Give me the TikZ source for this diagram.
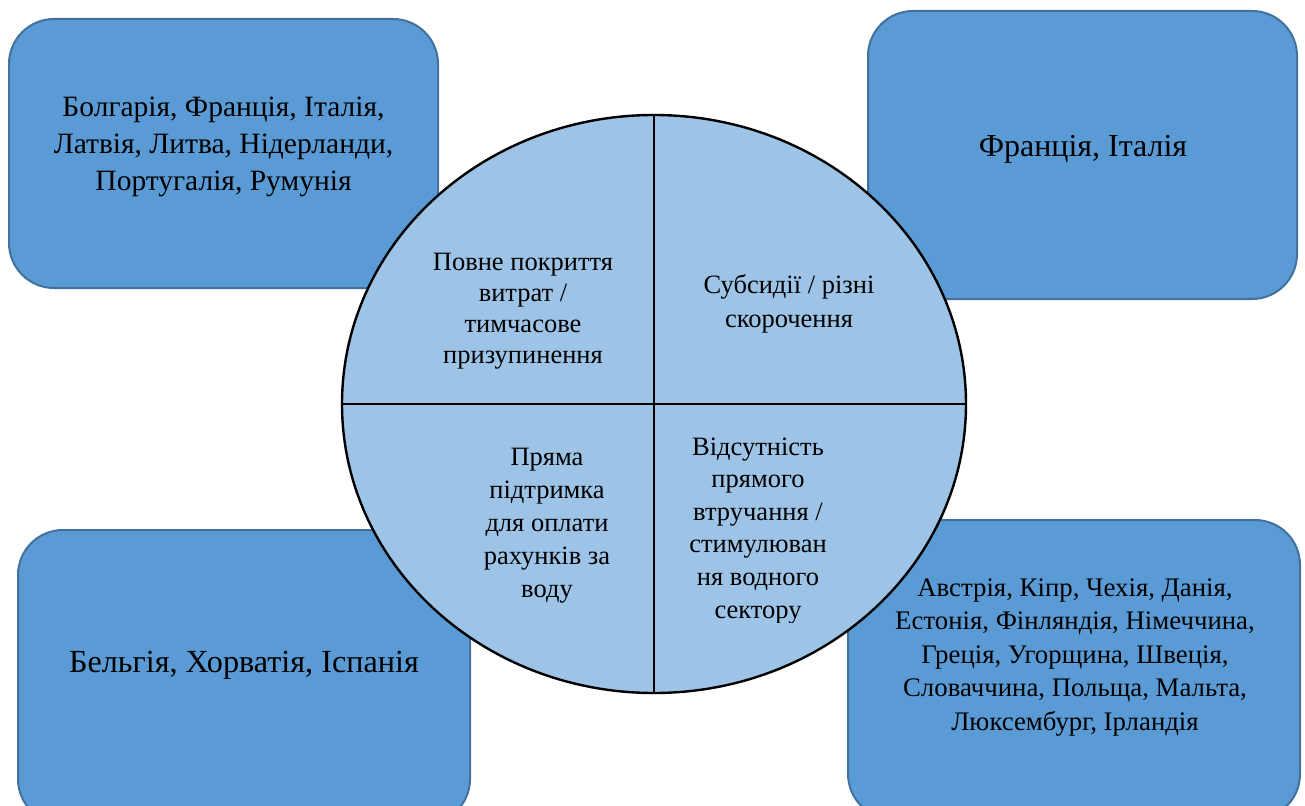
\documentclass[tikz,border=0pt]{standalone}
\usepackage{fontspec}
\setmainfont{Liberation Serif}
\usetikzlibrary{shapes.geometric}
\newcommand\cellines[1]{\vtop{\halign{\hfil##\hfil\cr#1\crcr}}}
\definecolor{boxfill}{HTML}{5B9BD5}
\definecolor{boxline}{HTML}{41719C}
\definecolor{circfill}{HTML}{9DC3E6}
\begin{document}
\begin{tikzpicture}[x=1pt,y=-1pt,
  cbox/.style={draw=boxline, fill=boxfill, line width=2pt, rounded corners=45pt, inner sep=0pt},
  circ/.style={ellipse, draw=black, fill=circfill, line width=2.4pt, inner sep=0pt},
  divline/.style={draw=black, line width=2.4pt},
  txt/.style={anchor=base, inner sep=0pt, text=black},
  qtxt/.style={txt, font=\fontsize{26.5}{32.5}\selectfont},
]
\useasboundingbox (0,0) rectangle (1305,805);
\clip (0,0) rectangle (1305,805);

% boxes
\node[cbox, minimum width=429pt, minimum height=269pt] (tlbox) at (223.5,153.5) {};
\node[cbox, minimum width=429pt, minimum height=288pt] (trbox) at (1082.5,155) {};
\node[cbox, minimum width=452pt, minimum height=294pt] (blbox) at (244,677) {};
\node[cbox, minimum width=452pt, minimum height=299pt] (brbox) at (1074,669.5) {};

% circle
\node[circ, minimum width=624pt, minimum height=578pt] (circ) at (654,404) {};
\draw[divline] (circ.north) -- (circ.south);
\draw[divline] (circ.west) -- (circ.east);

% box texts
\node[txt, font=\fontsize{29.5}{37}\selectfont] (tltext) at (223.5,117)
  {\cellines{Болгарія, Франція, Італія,\cr Латвія, Литва, Нідерланди,\cr Португалія, Румунія}};
\node[txt, font=\fontsize{32}{38}\selectfont] (trtext) at (1083,157) {Франція, Італія};
\node[txt, font=\fontsize{32.2}{38}\selectfont] (bltext) at (244,672) {Бельгія, Хорватія, Іспанія};
\node[txt, font=\fontsize{26.8}{33.5}\selectfont] (brtext) at (1075,596)
  {\cellines{Австрія, Кіпр, Чехія, Данія,\cr Естонія, Фінляндія, Німеччина,\cr Греція, Угорщина, Швеція,\cr Словаччина, Польща, Мальта,\cr Люксембург, Ірландія}};

% quadrant texts
\node[qtxt, font=\fontsize{26.5}{31}\selectfont] (q1) at (523,270)
  {\cellines{Повне покриття\cr витрат /\cr тимчасове\cr призупинення}};
\node[qtxt, font=\fontsize{26.5}{34}\selectfont] (q2) at (789,293)
  {\cellines{Субсидії / різні\cr скорочення}};
\node[qtxt, font=\fontsize{26.5}{33}\selectfont] (q3) at (547,465)
  {\cellines{Пряма\cr підтримка\cr для оплати\cr рахунків за\cr воду}};
\begin{scope}
\clip (600,400) rectangle (960,622);
\node[qtxt, font=\fontsize{26.5}{32.6}\selectfont] (q4) at (758,455)
  {\cellines{Відсутність\cr прямого\cr втручання /\cr стимулюван\cr ня водного\cr сектору}};
\end{scope}
\end{tikzpicture}
\end{document}
